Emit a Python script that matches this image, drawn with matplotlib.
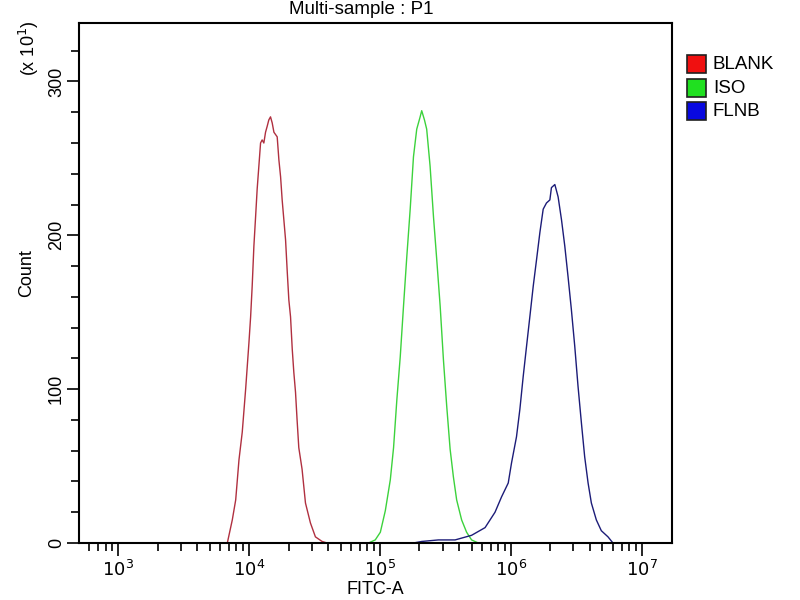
import numpy as np
import matplotlib
matplotlib.use("Agg")
import matplotlib.pyplot as plt
from matplotlib.patches import Rectangle
from matplotlib.ticker import FixedLocator, LogLocator, NullFormatter

plt.rcParams['font.family'] = ['Liberation Sans', 'DejaVu Sans']

# FITC-A values as log10, counts in units of x10
blank_log = [3.833, 3.871, 3.897, 3.922, 3.947, 3.973, 3.998, 4.011, 4.023, 4.036,
             4.049, 4.061, 4.074, 4.087, 4.099, 4.112, 4.125, 4.138, 4.150, 4.163,
             4.176, 4.189, 4.214, 4.227, 4.240, 4.252, 4.278, 4.291, 4.303, 4.316,
             4.329, 4.341, 4.354, 4.366, 4.379, 4.404, 4.430, 4.468, 4.506, 4.557, 4.595]
blank_count = [0, 15, 28, 54, 72, 100, 130, 147, 167, 193,
               212, 230, 245, 260, 262, 260, 267, 271, 275, 277,
               273, 267, 264, 249, 238, 223, 197, 176, 158, 147,
               126, 111, 98, 80, 62, 48, 26, 13, 4, 1, 0]

iso_log = [4.912, 4.963, 5.002, 5.040, 5.078, 5.103, 5.128, 5.154, 5.179, 5.204,
           5.230, 5.255, 5.280, 5.306, 5.318, 5.339, 5.356, 5.382, 5.408, 5.433,
           5.459, 5.484, 5.509, 5.535, 5.560, 5.585, 5.623, 5.661, 5.699, 5.750]
iso_count = [0, 2, 7, 21, 41, 62, 93, 121, 154, 186,
             217, 251, 269, 277, 281, 275, 269, 245, 212, 184,
             154, 119, 89, 61, 43, 28, 15, 7, 2, 0]

flnb_log = [5.255, 5.318, 5.446, 5.573, 5.699, 5.802, 5.878, 5.928, 5.979, 6.004,
            6.042, 6.068, 6.093, 6.119, 6.144, 6.170, 6.195, 6.221, 6.246, 6.271,
            6.297, 6.309, 6.335, 6.360, 6.386, 6.411, 6.436, 6.461, 6.487, 6.512,
            6.538, 6.563, 6.589, 6.614, 6.652, 6.690, 6.741, 6.779]
flnb_count = [0, 1, 2, 2, 5, 10, 20, 30, 39, 52,
              69, 87, 108, 128, 147, 167, 184, 202, 217, 221,
              223, 231, 233, 225, 210, 193, 173, 152, 128, 102,
              78, 56, 39, 26, 15, 8, 4, 0]

names = ["BLANK", "ISO", "FLNB"]
line_colors = ["#b03040", "#3cd23c", "#1c1c78"]
box_colors = ["#f01010", "#20e020", "#0808e0"]

fig = plt.figure(figsize=(8, 6), dpi=100)
ax = fig.add_axes([79 / 800, 57 / 600, 593 / 800, 520 / 600])

for lg, cnt, col in zip([blank_log, iso_log, flnb_log],
                        [blank_count, iso_count, flnb_count], line_colors):
    ax.plot(10 ** np.array(lg), cnt, color=col, lw=1.0)

ax.set_xscale('log')
ax.set_xlim(10 ** 2.7, 10 ** 7.23)
ax.set_ylim(0, 338)

ax.xaxis.set_major_locator(FixedLocator([1e3, 1e4, 1e5, 1e6, 1e7]))
ax.xaxis.set_minor_locator(LogLocator(base=10, subs=np.arange(2, 10)))
ax.xaxis.set_minor_formatter(NullFormatter())
ax.set_xticklabels([r'$10^{3}$', r'$10^{4}$', r'$10^{5}$', r'$10^{6}$', r'$10^{7}$'])

ax.set_yticks([0, 100, 200, 300])
ax.set_yticks(np.arange(0, 340, 20), minor=True)
ax.set_yticklabels(['0', '100', '200', '300'], rotation=90, va='center')

ax.tick_params(which='major', length=9, width=1.2, labelsize=13, color='black')
ax.tick_params(which='minor', length=6, width=1.2, color='black')
ax.tick_params(axis='x', pad=3)
ax.tick_params(axis='y', pad=1)

for s in ax.spines.values():
    s.set_linewidth(1.5)

ax.set_xlabel("FITC-A", fontsize=13, labelpad=1)
ax.set_ylabel("Count", fontsize=13)
ax.yaxis.set_label_coords(-0.074, 0.52)

fig.text(361 / 800, 1 - 9 / 600, "Multi-sample : P1", fontsize=13.5, ha='center', va='center')
fig.text(29 / 800, 1 - 48 / 600, r"(x 10$^{1}$)", fontsize=13, rotation=90, ha='center', va='center')

# legend boxes
for i, (nm, bc) in enumerate(zip(names, box_colors)):
    ytop = 55 + i * 23.5
    fig.add_artist(Rectangle((687 / 800, 1 - (ytop + 18) / 600), 19 / 800, 18 / 600,
                             transform=fig.transFigure, facecolor=bc,
                             edgecolor='#202020', lw=1.2))
    fig.text(713 / 800, 1 - (ytop + 9.5) / 600, nm, fontsize=13.5, ha='left', va='center')

fig.savefig("out.png", dpi=100)
